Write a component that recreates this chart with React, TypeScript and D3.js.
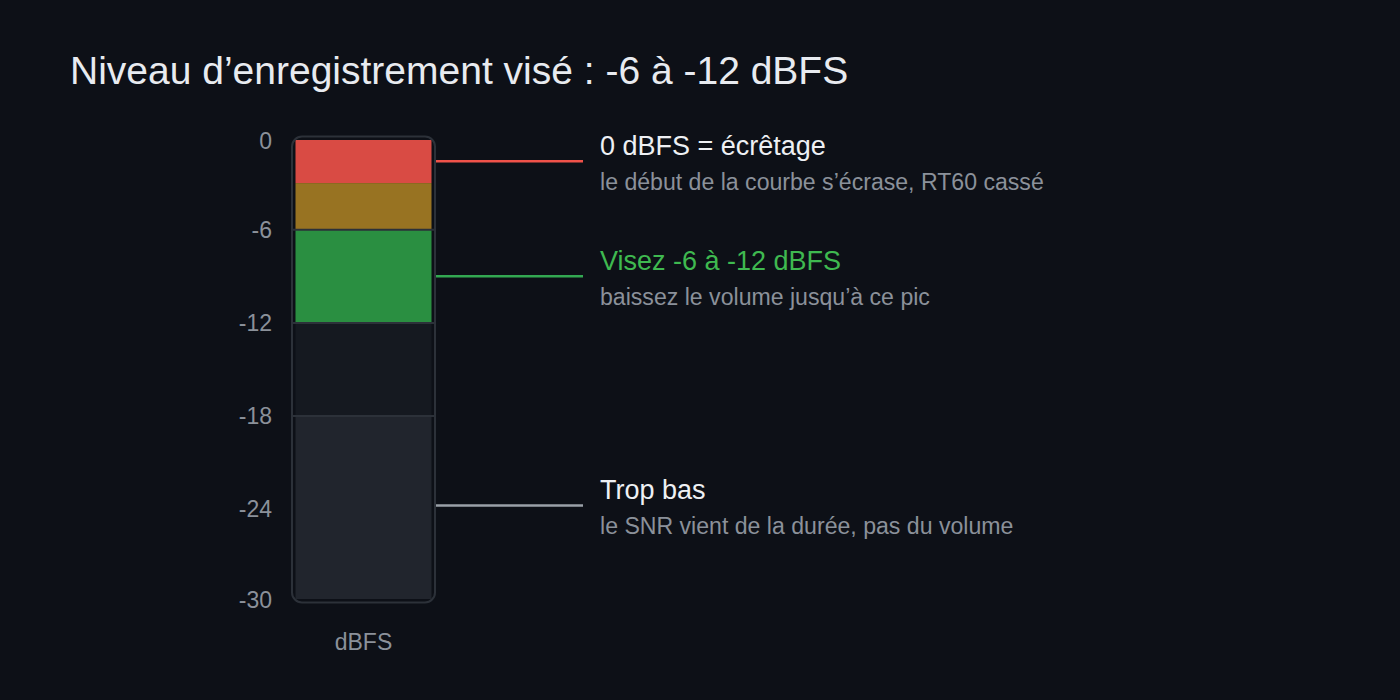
import React from 'react';
import * as d3 from 'd3';

// Data

const titleText = 'Niveau d\u2019enregistrement vis\u00e9 : -6 \u00e0 -12 dBFS';
const axisLabel = 'dBFS';

// meter zones, top to bottom (dBFS)
const zoneNames = ['clip', 'hot', 'target', 'low', 'tooLow'];
const zoneTop = [0, -3, -6, -12, -18];
const zoneBottom = [-3, -6, -12, -18, -30];

const tickValues = [0, -6, -12, -18, -24, -30];
const separatorValues = [-6, -12, -18];

// callouts
const calloutKeys = ['clip', 'target', 'tooLow'];
const calloutLevels = [-1.6, -9, -23.75];
const calloutHeads = ['0 dBFS = \u00e9cr\u00eatage', 'Visez -6 \u00e0 -12 dBFS', 'Trop bas'];
const calloutNotes = [
    'le d\u00e9but de la courbe s\u2019\u00e9crase, RT60 cass\u00e9',
    'baissez le volume jusqu\u2019\u00e0 ce pic',
    'le SNR vient de la dur\u00e9e, pas du volume',
];

// Styles

const zoneFill: Record<string, string> = {
    clip: '#d94b44',
    hot: '#987322',
    target: '#2a8f41',
    low: '#151920',
    tooLow: '#21252d',
};
const lineColor: Record<string, string> = {
    clip: '#f0524a',
    target: '#33a852',
    tooLow: '#9aa0a8',
};
const headColor: Record<string, string> = {
    clip: '#eef0f4',
    target: '#3fb950',
    tooLow: '#eef0f4',
};

const bg = '#0d1017';
const muted = '#8b919a';
const font = '"Liberation Sans", Arial, sans-serif';

function App() {
    const width = 1400;
    const height = 700;

    const meterX0 = 292;
    const meterX1 = 435;
    const inset = 3.5;

    const y = d3.scaleLinear().domain([0, -30]).range([136.5, 602.5]);
    // end labels are pulled inside the meter
    const labelY = (v: number) => Math.min(Math.max(y(v), y(0) + 4), y(-30) - 3);
    const calloutX0 = meterX1 + 1;
    const calloutX1 = 583;

    return (
        <div style={{ position: 'fixed', left: 0, top: 0, width, height, background: bg }}>
            <svg width={width} height={height} style={{ display: 'block', fontFamily: font }}>
                <rect width={width} height={height} fill={bg} />

                <text x={70} y={84} fontSize={39} fill="#e8ebf0">{titleText}</text>

                {/* zones */}
                <g>
                    {zoneNames.map((name, i) => {
                        const top = i === 0 ? y(zoneTop[i]) + inset : y(zoneTop[i]);
                        const bottom = i === zoneNames.length - 1 ? y(zoneBottom[i]) - inset : y(zoneBottom[i]);
                        return (
                            <rect key={name}
                                x={meterX0 + inset} width={meterX1 - meterX0 - 2 * inset}
                                y={top} height={bottom - top}
                                fill={zoneFill[name]} />
                        );
                    })}
                </g>

                {/* separators */}
                <g stroke="#2c3139" strokeWidth={2}>
                    {separatorValues.map((v) => (
                        <line key={v} x1={meterX0} x2={meterX1} y1={y(v)} y2={y(v)} />
                    ))}
                </g>

                {/* frame */}
                <rect x={meterX0} y={y(0)} width={meterX1 - meterX0} height={y(-30) - y(0)}
                    rx={10} fill="none" stroke="#2c3139" strokeWidth={2} />

                {/* ticks */}
                <g fontSize={23} fill={muted} textAnchor="end">
                    {tickValues.map((v) => (
                        <text key={v} x={272} y={labelY(v)} dy="0.35em">{v}</text>
                    ))}
                </g>

                <text x={(meterX0 + meterX1) / 2} y={642} dy="0.35em" textAnchor="middle" fontSize={23} fill={muted}>
                    {axisLabel}
                </text>

                {/* callouts */}
                {calloutKeys.map((key, i) => {
                    const cy = y(calloutLevels[i]);
                    return (
                        <g key={key}>
                            <line x1={calloutX0} x2={calloutX1} y1={cy} y2={cy}
                                stroke={lineColor[key]} strokeWidth={2.5} />
                            <text x={600} y={cy - 6} fontSize={27} fill={headColor[key]}>{calloutHeads[i]}</text>
                            <text x={600} y={cy + 29} fontSize={23.1} fill={muted}>{calloutNotes[i]}</text>
                        </g>
                    );
                })}
            </svg>
        </div>
    );
}

export default App;
